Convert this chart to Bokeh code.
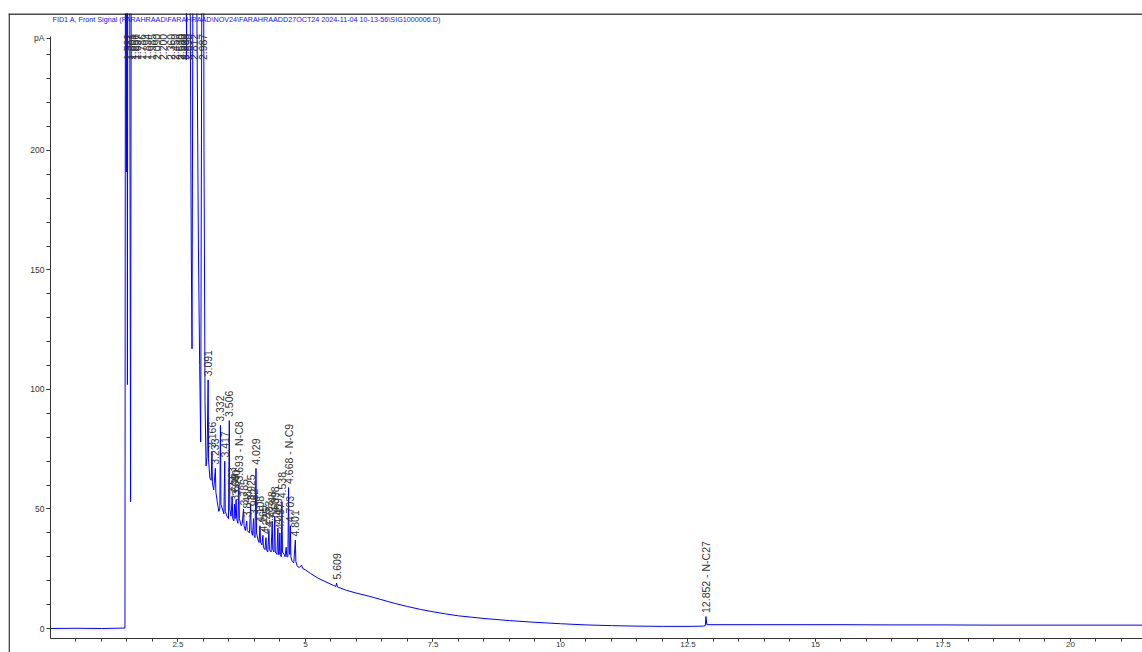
from bokeh.plotting import figure
from bokeh.models import FixedTicker, Range1d, ColumnDataSource, Span, Label
from bokeh.core.properties import value
from bokeh.embed import file_html
from bokeh.resources import INLINE

title_text = r"FID1 A, Front Signal (FARAHRAAD\FARAHRAAD\NOV24\FARAHRAADD27OCT24 2024-11-04 10-13-56\SIG1000006.D)"

# retention time (min) and detector signal (pA)
sig_t = [0.00, 0.50, 1.00, 1.46, 1.470, 1.488, 1.500, 1.508, 1.516, 1.522, 1.550, 1.570, 1.585,
         1.601, 1.630, 1.656, 1.680, 1.697, 1.740, 1.786, 1.850, 1.894, 1.940, 1.985, 2.040,
         2.090, 2.150, 2.200, 2.280, 2.360, 2.420, 2.450, 2.490, 2.530, 2.555, 2.580, 2.605,
         2.630, 2.650, 2.668, 2.690, 2.740, 2.760, 2.775, 2.790, 2.812, 2.850, 2.870, 2.900,
         2.925, 2.945, 2.965, 2.987, 3.010, 3.030, 3.050, 3.070, 3.091, 3.100, 3.125, 3.150,
         3.166, 3.175, 3.200, 3.233, 3.243, 3.270, 3.300, 3.320, 3.332, 3.342, 3.370, 3.400,
         3.417, 3.427, 3.460, 3.490, 3.506, 3.516, 3.540, 3.563, 3.573, 3.595, 3.609, 3.620,
         3.640, 3.650, 3.675, 3.693, 3.703, 3.740, 3.760, 3.785, 3.795, 3.820, 3.848, 3.858,
         3.900, 3.925, 3.935, 3.960, 3.982, 3.992, 4.010, 4.029, 4.040, 4.070, 4.090, 4.108,
         4.118, 4.145, 4.165, 4.175, 4.205, 4.225, 4.235, 4.260, 4.283, 4.293, 4.325, 4.348,
         4.358, 4.380, 4.398, 4.408, 4.440, 4.459, 4.469, 4.485, 4.497, 4.507, 4.525, 4.538,
         4.548, 4.580, 4.600, 4.620, 4.635, 4.655, 4.668, 4.680, 4.690, 4.703, 4.713, 4.740,
         4.770, 4.801, 4.811, 4.840, 4.880, 4.920, 4.950, 5.000, 5.100, 5.250, 5.400, 5.550,
         5.595, 5.609, 5.625, 5.800, 6.000, 6.250, 6.500, 6.750, 7.000, 7.250, 7.500, 7.750,
         8.000, 8.500, 9.000, 9.500, 10.00, 10.50, 11.00, 11.50, 12.00, 12.50, 12.80, 12.84,
         12.852, 12.870, 13.50, 14.50, 15.50, 16.50, 17.50, 18.50, 19.50, 20.50, 21.50]
sig_v = [0.0, 0.1, 0.0, 0.2, 320, 191, 320, 102, 320, 450, 320, 53, 320,
         450, 330, 450, 330, 450, 330, 450, 330, 450, 330, 450, 330,
         450, 330, 450, 330, 450, 330, 450, 330, 450, 330, 450, 330,
         450, 330, 238, 450, 260, 160, 117, 250, 450, 400, 260, 160,
         110, 78, 250, 450, 200, 95, 68, 72, 104, 70, 63, 62,
         74, 61, 58, 67, 57, 53, 49, 50, 85, 52, 50, 48,
         70, 49, 47, 46, 87, 50, 47, 55, 46, 45, 52, 46,
         54, 46, 44, 60, 46, 43, 44, 50, 43, 41, 45, 41,
         40, 52, 41, 39, 46, 39, 38, 67, 40, 37, 36, 43,
         36, 35, 39, 34, 33, 38, 33, 32, 41, 33, 32, 45,
         33, 32, 47, 32, 31, 42, 31, 31, 40, 31, 30, 53,
         32, 31, 30, 34, 30, 30, 59, 33, 31, 43, 30, 28,
         27.5, 37, 28, 26, 25.5, 26.5, 25, 24.5, 23, 21, 19.5, 18,
         17.6, 19, 17.4, 16, 14.8, 13.5, 12, 10.5, 9.2, 8, 7, 6.1,
         5.3, 4.2, 3.3, 2.6, 2.0, 1.5, 1.2, 1.0, 0.9, 0.9, 1.0, 1.2,
         5.0, 1.6, 1.6, 1.6, 1.6, 1.5, 1.5, 1.4, 1.4, 1.4, 1.4]

# peaks that leave the top of the plot (labels hang from the top)
top_peak_t = [1.522, 1.601, 1.656, 1.697, 1.786, 1.894, 1.985, 2.090, 2.200, 2.360,
              2.450, 2.530, 2.580, 2.630, 2.690, 2.812, 2.987]
top_peak_lbl = ["1.522", "1.601", "1.656", "1.697", "1.786", "1.894", "1.985", "2.090",
                "2.200", "2.360", "2.450", "2.530", "2.580", "2.630", "2.690", "2.812", "2.987"]

# labelled peaks inside the plot
peak_t = [3.091, 3.166, 3.233, 3.332, 3.417, 3.506, 3.563, 3.609, 3.640, 3.693, 3.785,
          3.848, 3.925, 3.982, 4.029, 4.108, 4.165, 4.225, 4.283, 4.348, 4.398, 4.459,
          4.497, 4.538, 4.668, 4.703, 4.801, 5.609, 12.852]
peak_v = [104, 74, 67, 85, 70, 87, 55, 52, 54, 60, 50,
          45, 52, 46, 67, 43, 39, 38, 41, 45, 47, 42,
          40, 53, 59, 43, 37, 19, 5.0]
peak_lbl = ["3.091", "3.166", "3.233", "3.332", "3.417", "3.506", "3.563", "3.609", "3.640",
            "3.693 - N-C8", "3.785", "3.848", "3.925", "3.982", "4.029", "4.108", "4.165",
            "4.225", "4.283", "4.348", "4.398", "4.459", "4.497", "4.538", "4.668 - N-C9",
            "4.703", "4.801", "5.609", "12.852 - N-C27"]

x_ticks = [2.5, 5, 7.5, 10, 12.5, 15, 17.5, 20]
x_tick_labels = ["2.5", "5", "7.5", "10", "12.5", "15", "17.5", "20"]
x_minor = [0.5 * i for i in range(1, 43)]
y_ticks = [0, 50, 100, 150, 200, 247]
y_tick_labels = ["0", "50", "100", "150", "200", "pA"]
y_minor = [10 * i for i in range(1, 25)]

font = "Liberation Sans"

# frame fills the window; left/top edges act as the outer border of the report box
p = figure(width=1142, height=652, output_backend="svg", toolbar_location=None,
           x_range=Range1d(-0.8235, 21.412), y_range=Range1d(-10.04, 257.3),
           min_border_left=8, min_border_right=0, min_border_top=13, min_border_bottom=0)
p.outline_line_color = None
p.grid.visible = False
p.background_fill_color = "white"
p.border_fill_color = "white"

# outer report frame (top and left edges)
p.add_layout(Span(location=257.1, dimension="width", line_color="#111111", line_width=1.3))
p.add_layout(Span(location=-0.812, dimension="height", line_color="#111111", line_width=1.3))

p.add_layout(Label(x=0.04, y=254.8, text=title_text, text_font=font, text_font_size="7.2px",
                   text_color="#1414ff", text_baseline="middle", text_align="left"))

for ax in (p.xaxis[0], p.yaxis[0]):
    ax.axis_line_color = "#333333"
    ax.major_tick_line_color = "#333333"
    ax.minor_tick_line_color = "#333333"
    ax.major_tick_in = 0
    ax.minor_tick_in = 0
    ax.major_label_text_font = font
    ax.major_label_text_color = "#333333"

p.xaxis[0].fixed_location = -4.0
p.xaxis[0].bounds = (0, 21.412)
p.xaxis[0].ticker = FixedTicker(ticks=x_ticks, minor_ticks=x_minor)
p.xaxis[0].major_label_overrides = {t: l for t, l in zip(x_ticks, x_tick_labels)}
p.xaxis[0].major_tick_out = 3
p.xaxis[0].minor_tick_out = 3
p.xaxis[0].major_label_standoff = 1
p.xaxis[0].major_label_text_font_size = "8px"

p.yaxis[0].fixed_location = 0
p.yaxis[0].bounds = (-4.0, 247.5)
p.yaxis[0].ticker = FixedTicker(ticks=y_ticks, minor_ticks=y_minor)
p.yaxis[0].major_label_overrides = {t: l for t, l in zip(y_ticks, y_tick_labels)}
p.yaxis[0].major_tick_out = 4
p.yaxis[0].minor_tick_out = 4
p.yaxis[0].major_label_standoff = 2
p.yaxis[0].major_label_text_font_size = "8.5px"

p.line(sig_t, sig_v, line_color="#0000ff", line_width=1)

lab_src = ColumnDataSource(dict(x=peak_t, y=[v + 1.5 for v in peak_v], text=peak_lbl))
p.text(x="x", y="y", text="text", source=lab_src, angle=1.5707963,
       text_align="left", text_baseline="middle", text_font=value(font),
       text_font_size="10.5px", text_color="#333333")

top_src = ColumnDataSource(dict(x=top_peak_t, y=[248.8] * len(top_peak_t), text=top_peak_lbl))
p.text(x="x", y="y", text="text", source=top_src, angle=1.5707963,
       text_align="right", text_baseline="middle", text_font=value(font),
       text_font_size="10.5px", text_color="#333333")

open("out.html", "w").write(file_html(p, INLINE))
